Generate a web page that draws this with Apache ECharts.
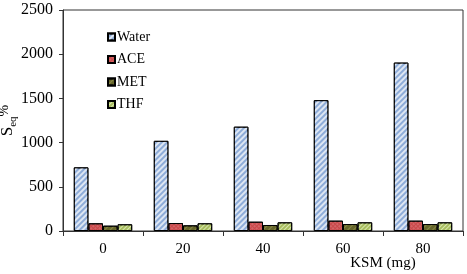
<!DOCTYPE html>
<html>
<head>
<meta charset="utf-8">
<script src="https://cdn.jsdelivr.net/npm/echarts@6/dist/echarts.min.js"></script>
<style>
  html, body { margin: 0; padding: 0; background: #fff; }
  #chart { width: 467px; height: 274px; }
</style>
</head>
<body>
<div id="chart"></div>
<script>
var categories = ['0', '20', '40', '60', '80'];
var waterVals = [720, 1020, 1180, 1480, 1905];
var aceVals = [87, 90, 105, 117, 117];
var metVals = [60, 64, 68, 79, 79];
var thfVals = [76, 87, 98, 98, 98];
var yTicks = [0, 500, 1000, 1500, 2000, 2500];

var chart = echarts.init(document.getElementById('chart'));

function barSeries(name, data, color, decal) {
    return {
        name: name,
        type: 'bar',
        data: data,
        barGap: '0%',
        barCategoryGap: '27%',
        itemStyle: {
            color: color,
            borderColor: '#000',
            borderWidth: 1,
            decal: decal
        }
    };
}

var font = 'Liberation Serif, Times New Roman, serif';

var option = {
    animation: false,
    textStyle: { fontFamily: font },
    grid: {
        left: 63, right: 4, top: 10, bottom: 43,
        containLabel: false,
        outerBoundsMode: 'none',
        show: true, borderColor: '#333', borderWidth: 1
    },
    legend: {
        orient: 'vertical',
        left: 102, top: 25,
        icon: 'rect',
        itemWidth: 7, itemHeight: 7,
        itemGap: 8.5,
        textStyle: { fontFamily: font, fontSize: 14, color: '#000', padding: [0, 0, 0, -3] },
        data: ['Water', 'ACE', 'MET', 'THF']
    },
    xAxis: {
        type: 'category',
        data: categories,
        name: 'KSM (mg)',
        nameLocation: 'middle',
        nameGap: 25,
        nameMoveOverlap: false,
        nameTextStyle: { fontFamily: font, fontSize: 15, color: '#000', padding: [0, 0, 0, 240] },
        axisLine: { lineStyle: { color: '#333' } },
        axisTick: { show: true, length: 5, inside: false, lineStyle: { color: '#333' } },
        axisLabel: { fontFamily: font, fontSize: 15, color: '#000', margin: 11 }
    },
    yAxis: {
        type: 'value',
        min: yTicks[0],
        max: yTicks[yTicks.length - 1],
        interval: 500,
        name: 'S{sub|eq}{sup|%}',
        nameLocation: 'middle',
        nameGap: 44,
        nameMoveOverlap: false,
        nameTextStyle: {
            fontFamily: font, fontSize: 17, color: '#000',
            rich: {
                sub: { fontFamily: font, fontSize: 11, color: '#000', verticalAlign: 'bottom', padding: [8, 0, 0, 0] },
                sup: { fontFamily: font, fontSize: 14, color: '#000', verticalAlign: 'top', padding: [0, 0, 8, 0] }
            }
        },
        splitLine: { show: false },
        axisLine: { show: true, lineStyle: { color: '#333' } },
        axisTick: { show: true, length: 4, lineStyle: { color: '#333' } },
        axisLabel: {
            fontFamily: font, fontSize: 16, color: '#000', margin: 10,
            formatter: function (v) { return String(v); }
        }
    },
    series: [
        barSeries('Water', waterVals, '#8eacd8', {
            symbol: 'rect', dashArrayX: [1, 0], dashArrayY: [2, 2],
            rotation: -Math.PI / 4, color: 'rgba(255,255,255,0.7)'
        }),
        barSeries('ACE', aceVals, '#c9484a', {
            symbol: 'rect', symbolSize: 0.6, dashArrayX: [2, 1], dashArrayY: [2, 1],
            rotation: Math.PI / 4, color: 'rgba(255,210,210,0.7)'
        }),
        barSeries('MET', metVals, '#66662a', {
            symbol: 'rect', dashArrayX: [1, 0], dashArrayY: [1, 3],
            rotation: -Math.PI / 4, color: 'rgba(170,170,100,0.5)'
        }),
        barSeries('THF', thfVals, '#a7bd5e', {
            symbol: 'rect', dashArrayX: [1, 0], dashArrayY: [1, 2],
            rotation: -Math.PI / 4, color: 'rgba(240,248,210,0.7)'
        })
    ]
};

chart.setOption(option);
</script>
</body>
</html>
